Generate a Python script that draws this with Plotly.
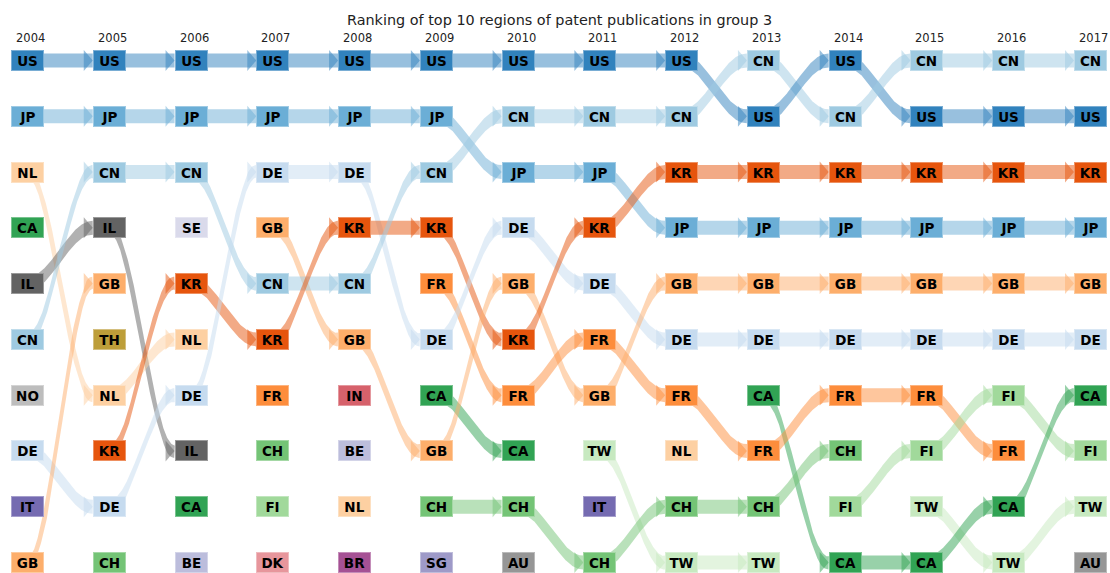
import numpy as np
import plotly.graph_objects as go

years = [2004, 2005, 2006, 2007, 2008, 2009, 2010, 2011, 2012, 2013, 2014, 2015, 2016, 2017]

rank_2004 = ["US", "JP", "NL", "CA", "IL", "CN", "NO", "DE", "IT", "GB"]
rank_2005 = ["US", "JP", "CN", "IL", "GB", "TH", "NL", "KR", "DE", "CH"]
rank_2006 = ["US", "JP", "CN", "SE", "KR", "NL", "DE", "IL", "CA", "BE"]
rank_2007 = ["US", "JP", "DE", "GB", "CN", "KR", "FR", "CH", "FI", "DK"]
rank_2008 = ["US", "JP", "DE", "KR", "CN", "GB", "IN", "BE", "NL", "BR"]
rank_2009 = ["US", "JP", "CN", "KR", "FR", "DE", "CA", "GB", "CH", "SG"]
rank_2010 = ["US", "CN", "JP", "DE", "GB", "KR", "FR", "CA", "CH", "AU"]
rank_2011 = ["US", "CN", "JP", "KR", "DE", "FR", "GB", "TW", "IT", "CH"]
rank_2012 = ["US", "CN", "KR", "JP", "GB", "DE", "FR", "NL", "CH", "TW"]
rank_2013 = ["CN", "US", "KR", "JP", "GB", "DE", "CA", "FR", "CH", "TW"]
rank_2014 = ["US", "CN", "KR", "JP", "GB", "DE", "FR", "CH", "FI", "CA"]
rank_2015 = ["CN", "US", "KR", "JP", "GB", "DE", "FR", "FI", "TW", "CA"]
rank_2016 = ["CN", "US", "KR", "JP", "GB", "DE", "FI", "FR", "CA", "TW"]
rank_2017 = ["CN", "US", "KR", "JP", "GB", "DE", "CA", "FI", "TW", "AU"]

rankings = [rank_2004, rank_2005, rank_2006, rank_2007, rank_2008, rank_2009, rank_2010,
            rank_2011, rank_2012, rank_2013, rank_2014, rank_2015, rank_2016, rank_2017]

title = "Ranking of top 10 regions of patent publications in group 3"

colors = {
    "US": "#3182bd", "JP": "#6baed6", "CN": "#9ecae1", "DE": "#c6dbef",
    "KR": "#e6550d", "FR": "#fd8d3c", "GB": "#fdae6b", "NL": "#fdd0a2",
    "CA": "#31a354", "CH": "#74c476", "FI": "#a1d99b", "TW": "#c7e9c0",
    "IT": "#756bb1", "SG": "#9e9ac8", "BE": "#bcbddc", "SE": "#dadaeb",
    "IL": "#636363", "AU": "#969696", "NO": "#bdbdbd",
    "TH": "#bd9e39", "IN": "#d6616b", "DK": "#e7969c", "BR": "#a55194",
}


def rgba(hexcol, a):
    h = hexcol.lstrip("#")
    r, g, b = int(h[0:2], 16), int(h[2:4], 16), int(h[4:6], 16)
    return f"rgba({r},{g},{b},{a})"


def lighter(hexcol, f=0.35):
    h = hexcol.lstrip("#")
    r, g, b = int(h[0:2], 16), int(h[2:4], 16), int(h[4:6], 16)
    r, g, b = [int(v + (255 - v) * f) for v in (r, g, b)]
    return f"rgb({r},{g},{b})"


# pixel geometry
W, H = 1110, 573
PX_X, PX_Y = 81.77, 55.78
X0_PX, Y0_PX = 27.5, 60.5
xrange = [-X0_PX / PX_X, (W - X0_PX) / PX_X]
yrange = [1 + (H - Y0_PX) / PX_Y, 1 - Y0_PX / PX_Y]
box_hw = 16.5 / PX_X
arrow_len = 9.0 / PX_X
head_h = 10.5 / PX_Y
BAND_HALF_PX = 7.0     # half thickness of flat ribbon (vertical)
MIN_HALF_PX = 2.3      # minimum perpendicular half thickness on steep parts

fig = go.Figure()

t = np.linspace(0, 1, 160)
s = (1 - np.cos(np.pi * t)) / 2

for i in range(len(years) - 1):
    cur, nxt = rankings[i], rankings[i + 1]
    for r0, c in enumerate(cur, start=1):
        if c not in nxt:
            continue
        r1 = nxt.index(c) + 1
        xs = i
        xe = i + 1 - box_hw
        xx = xs + (xe - xs) * t
        yc = r0 + (r1 - r0) * s
        # ribbon outline computed in pixel space
        cx, cy = xx * PX_X, yc * PX_Y
        dx, dy = np.gradient(cx), np.gradient(cy)
        ln = np.hypot(dx, dy)
        cos_t = dx / ln
        nx, ny = -dy / ln, dx / ln
        m = np.maximum(MIN_HALF_PX, BAND_HALF_PX * cos_t)
        tx, ty = cx - nx * m, cy - ny * m
        bx, by = cx + nx * m, cy + ny * m
        px = np.concatenate([tx, bx[::-1], [tx[0]]]) / PX_X
        py = np.concatenate([ty, by[::-1], [ty[0]]]) / PX_Y
        fig.add_trace(go.Scatter(x=px, y=py, mode="lines", fill="toself",
                                 fillcolor=rgba(colors[c], 0.5), line=dict(width=0),
                                 hoverinfo="skip", showlegend=False))
        ab = i + 1 - box_hw - arrow_len
        ax = [ab, ab + arrow_len, ab, ab]
        ay = [r1 - head_h, r1, r1 + head_h, r1 - head_h]
        fig.add_trace(go.Scatter(x=ax, y=ay, mode="lines", fill="toself",
                                 fillcolor=rgba(colors[c], 0.5), line=dict(width=0),
                                 hoverinfo="skip", showlegend=False))

annotations = []
for i, yr in enumerate(years):
    for r, c in enumerate(rankings[i], start=1):
        annotations.append(dict(
            x=i, y=r, xref="x", yref="y", text=f"<b>{c}</b>", showarrow=False,
            bgcolor=colors[c], bordercolor=lighter(colors[c]), borderwidth=1, borderpad=0,
            width=31, height=19, align="center", valign="middle",
            font=dict(family="DejaVu Sans", size=13.5, color="black")))
    annotations.append(dict(
        x=i + 3 / PX_X, y=1 - 38 / H, xref="x", yref="paper", text=str(yr),
        showarrow=False, yanchor="middle",
        font=dict(family="DejaVu Sans", size=11.5, color="#222")))

annotations.append(dict(
    x=559 / W, y=1 - 20 / H, xref="paper", yref="paper", text=title,
    showarrow=False, yanchor="middle", xanchor="center",
    font=dict(family="DejaVu Sans", size=14.4, color="#222")))

fig.update_layout(
    width=W, height=H, margin=dict(l=0, r=0, t=0, b=0),
    plot_bgcolor="white", paper_bgcolor="white",
    xaxis=dict(range=xrange, visible=False, fixedrange=True),
    yaxis=dict(range=yrange, visible=False, fixedrange=True),
    annotations=annotations, showlegend=False,
)

fig.write_html("out.html",
               post_script="document.body.style.margin='0';document.body.style.overflow='hidden';",
               config={"displayModeBar": False})
